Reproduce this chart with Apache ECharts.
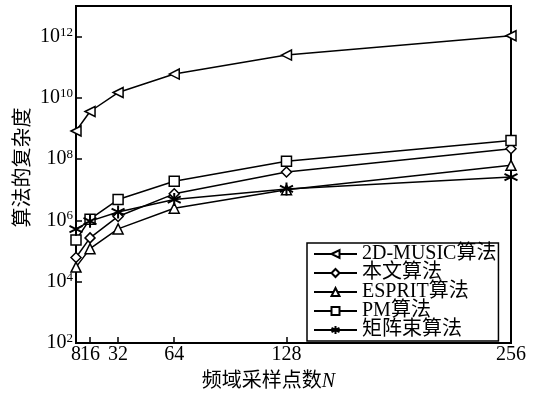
<!DOCTYPE html>
<html>
<head>
<meta charset="utf-8">
<script src="https://cdn.jsdelivr.net/npm/echarts@6/dist/echarts.min.js"></script>
<style>html,body{margin:0;padding:0;background:#fff;}#c{width:534px;height:397px;}</style>
</head>
<body>
<div id="c"></div>
<script>
var xTicks = [8, 16, 32, 64, 128, 256];
var xLabelsMain = [8, 32, 64, 128, 256];
var xLabelsExtra = [16];
var seriesNames = ['2D-MUSIC算法', '本文算法', 'ESPRIT算法', 'PM算法', '矩阵束算法'];
var music = [8.3e8, 3.6e9, 1.5e10, 6.0e10, 2.5e11, 1.07e12];
var proposed = [6.2e4, 2.7e5, 1.35e6, 7.4e6, 3.8e7, 2.2e8];
var esprit = [3.0e4, 1.2e5, 5.3e5, 2.5e6, 1.0e7, 6.3e7];
var pm = [2.3e5, 1.1e6, 4.8e6, 1.9e7, 8.5e7, 4.1e8];
var pencil = [5.2e5, 9.5e5, 1.9e6, 4.8e6, 1.07e7, 2.6e7];

var FONT = "'Liberation Serif', 'Noto Sans CJK SC', serif";
var STAR = 'path://M0,-10 L0,10 M-8.66,-5 L8.66,5 M-8.66,5 L8.66,-5';

function pairs(vals) { return xTicks.map(function (x, i) { return [x, vals[i]]; }); }
function mk(name, vals, symbol, rot, size, bw) {
  return {
    name: name, type: 'line', data: pairs(vals), xAxisIndex: 0,
    symbol: symbol, symbolSize: size || 10, symbolRotate: rot || 0,
    lineStyle: { color: '#000', width: 1.5 },
    itemStyle: { color: '#fff', borderColor: '#000', borderWidth: bw || 1.5 },
    emphasis: { disabled: true },
    z: 2
  };
}

var chart = echarts.init(document.getElementById('c'));
chart.setOption({
  animation: false,
  backgroundColor: '#fff',
  grid: { left: 76, right: 23, top: 6, bottom: 48, show: true, borderColor: '#000', borderWidth: 2, backgroundColor: 'transparent' },
  legend: {
    orient: 'vertical', left: 307, top: 243,
    borderColor: '#000', borderWidth: 1.5, backgroundColor: '#fff',
    padding: [1, 2, 1, 6], itemWidth: 43, itemHeight: 10, itemGap: -1,
    textStyle: { fontFamily: FONT, fontSize: 20, lineHeight: 18, color: '#000' },
    data: seriesNames
  },
  xAxis: [{
    type: 'value', min: 8, max: 256, position: 'bottom',
    name: '{a|频域采样点数}{b|N}', nameLocation: 'middle', nameGap: 29, nameMoveOverlap: false,
    nameTextStyle: { padding: [0, 50, 0, 0], rich: {
      a: { fontFamily: FONT, fontSize: 20, color: '#000' },
      b: { fontFamily: FONT, fontSize: 20, color: '#000', fontStyle: 'italic' } } },
    axisLine: { lineStyle: { color: '#000', width: 2 } },
    axisTick: { inside: true, length: 6, customValues: xTicks, lineStyle: { color: '#000', width: 1.5 } },
    axisLabel: { customValues: xLabelsMain, fontFamily: FONT, fontSize: 20, color: '#000', margin: 2,
      showMinLabel: true, showMaxLabel: true },
    splitLine: { show: false }
  }, {
    type: 'value', min: 8, max: 256, position: 'bottom', offset: 0,
    axisLine: { show: false }, axisTick: { show: false },
    axisLabel: { customValues: xLabelsExtra, fontFamily: FONT, fontSize: 20, color: '#000', margin: 2 },
    splitLine: { show: false }
  }],
  yAxis: {
    type: 'log', min: 1e2, max: 1e13, interval: 2, logBase: 10,
    name: '算法的复杂度', nameLocation: 'middle', nameGap: 42, nameMoveOverlap: false,
    nameTextStyle: { fontFamily: FONT, fontSize: 20, color: '#000', padding: [0, 0, 0, 14] },
    axisLine: { lineStyle: { color: '#000', width: 2 } },
    axisTick: { inside: true, length: 6, lineStyle: { color: '#000', width: 1.5 } },
    minorTick: { show: false },
    axisLabel: {
      fontFamily: FONT, color: '#000', margin: 3, showMaxLabel: false,
      formatter: function (v) {
        var e = Math.round(Math.log(v) / Math.LN10);
        if (e % 2 !== 0) return '';
        return '{b|10}{s|' + e + '}';
      },
      rich: {
        b: { fontFamily: FONT, fontSize: 20, color: '#000' },
        s: { fontFamily: FONT, fontSize: 13, color: '#000', verticalAlign: 'top', padding: [0, 0, 9, 0] }
      }
    },
    splitLine: { show: false }
  },
  series: [
    mk(seriesNames[0], music, 'triangle', 90),
    mk(seriesNames[1], proposed, 'diamond'),
    mk(seriesNames[2], esprit, 'triangle'),
    mk(seriesNames[3], pm, 'rect'),
    mk(seriesNames[4], pencil, STAR, 0, 13, 2)
  ]
});
</script>
</body>
</html>
